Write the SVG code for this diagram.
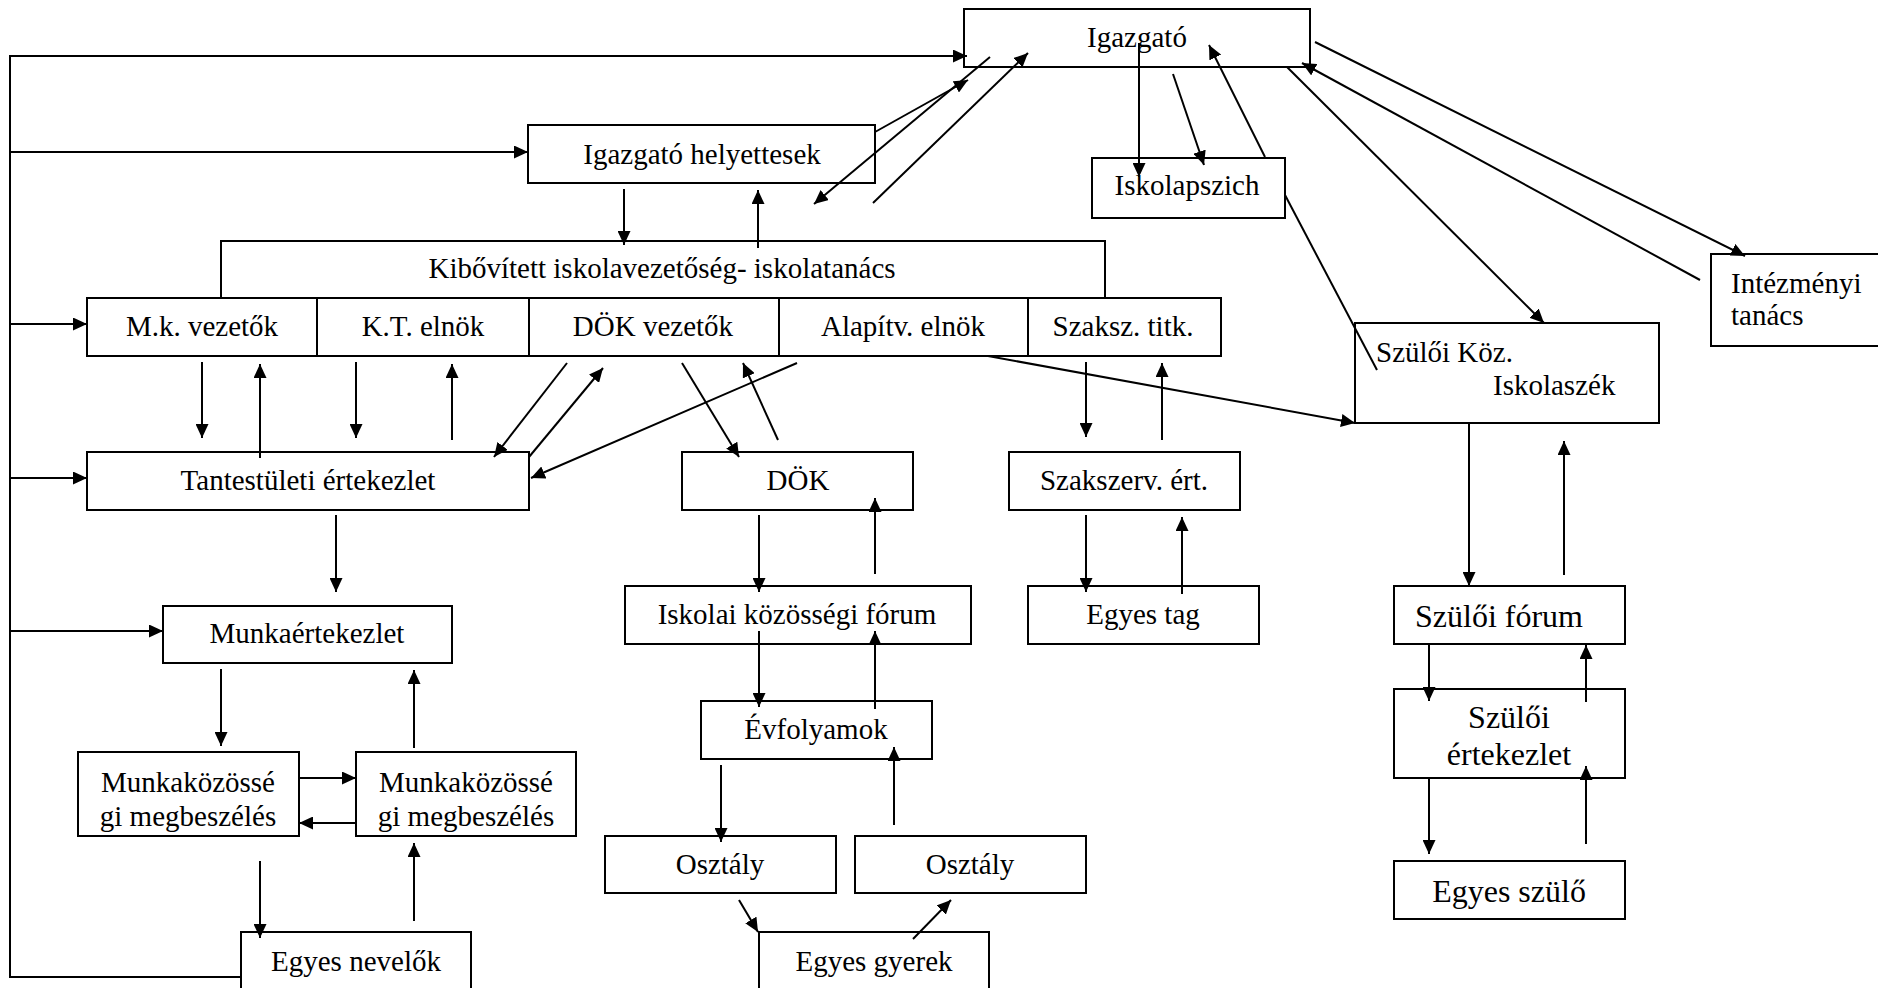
<svg xmlns="http://www.w3.org/2000/svg" width="1878" height="988" viewBox="0 0 1878 988">
<style>
.b{fill:#fff;stroke:#000;stroke-width:2}
.t{font-family:"Liberation Serif","Times New Roman",serif;font-size:29px;fill:#000;text-anchor:middle}
.s{text-anchor:start}
.L{font-size:32px}
.c line,.c polyline{stroke:#000;stroke-width:2;fill:none}
.a{marker-end:url(#ah)}
</style>
<defs>
<marker id="ah" markerUnits="userSpaceOnUse" markerWidth="14" markerHeight="13" refX="14" refY="6.5" orient="auto">
<path d="M0,0 L14,6.5 L0,13 z" fill="#000"/>
</marker>
</defs>
<rect width="1878" height="988" fill="#fff"/>

<g id="n-igazgato"><rect class="b" x="964" y="9" width="346" height="58"/><text class="t" x="1137" y="47">Igazgató</text></g>
<g id="n-helyettesek"><rect class="b" x="528" y="125" width="347" height="58"/><text class="t" x="702" y="164">Igazgató helyettesek</text></g>
<g id="n-iskolapszich"><rect class="b" x="1092" y="158" width="193" height="60"/><text class="t" x="1187" y="195">Iskolapszich</text></g>
<g id="n-kibovitett"><rect class="b" x="221" y="241" width="884" height="57"/><text class="t" x="662" y="278">Kibővített iskolavezetőség- iskolatanács</text></g>
<g id="n-sor">
<rect class="b" x="87" y="298" width="1134" height="58"/>
<line x1="317" y1="298" x2="317" y2="356" stroke="#000" stroke-width="2"/>
<line x1="529" y1="298" x2="529" y2="356" stroke="#000" stroke-width="2"/>
<line x1="779" y1="298" x2="779" y2="356" stroke="#000" stroke-width="2"/>
<line x1="1028" y1="298" x2="1028" y2="356" stroke="#000" stroke-width="2"/>
<text class="t" x="202" y="336">M.k. vezetők</text>
<text class="t" x="423" y="336">K.T. elnök</text>
<text class="t" x="653" y="336">DÖK vezetők</text>
<text class="t" x="903" y="336">Alapítv. elnök</text>
<text class="t" x="1123" y="336">Szaksz. titk.</text>
</g>
<g id="n-intezmenyi"><rect class="b" x="1711" y="254" width="170" height="92"/><text class="t s" x="1731" y="293">Intézményi</text><text class="t s" x="1731" y="325">tanács</text></g>
<g id="n-szuloikoz"><rect class="b" x="1355" y="323" width="304" height="100"/><text class="t s" x="1376" y="362">Szülői Köz.</text><text class="t s" x="1493" y="395">Iskolaszék</text></g>
<g id="n-tantestuleti"><rect class="b" x="87" y="452" width="442" height="58"/><text class="t" x="308" y="490">Tantestületi értekezlet</text></g>
<g id="n-dok"><rect class="b" x="682" y="452" width="231" height="58"/><text class="t" x="798" y="490">DÖK</text></g>
<g id="n-szakszerv"><rect class="b" x="1009" y="452" width="231" height="58"/><text class="t" x="1124" y="490">Szakszerv. ért.</text></g>
<g id="n-iskolai"><rect class="b" x="625" y="586" width="346" height="58"/><text class="t" x="797" y="624">Iskolai közösségi fórum</text></g>
<g id="n-egyestag"><rect class="b" x="1028" y="586" width="231" height="58"/><text class="t" x="1143" y="624">Egyes tag</text></g>
<g id="n-szuloiforum"><rect class="b" x="1394" y="586" width="231" height="58"/><text class="t s L" x="1415" y="627">Szülői fórum</text></g>
<g id="n-munkaert"><rect class="b" x="163" y="606" width="289" height="57"/><text class="t" x="307" y="643">Munkaértekezlet</text></g>
<g id="n-evfolyamok"><rect class="b" x="701" y="701" width="231" height="58"/><text class="t" x="816" y="739">Évfolyamok</text></g>
<g id="n-szuloiert"><rect class="b" x="1394" y="689" width="231" height="89"/><text class="t L" x="1509" y="728">Szülői</text><text class="t L" x="1509" y="765">értekezlet</text></g>
<g id="n-mk1"><rect class="b" x="78" y="752" width="221" height="84"/><text class="t" x="188" y="792">Munkaközössé</text><text class="t" x="188" y="826">gi megbeszélés</text></g>
<g id="n-mk2"><rect class="b" x="356" y="752" width="220" height="84"/><text class="t" x="466" y="792">Munkaközössé</text><text class="t" x="466" y="826">gi megbeszélés</text></g>
<g id="n-osztaly1"><rect class="b" x="605" y="836" width="231" height="57"/><text class="t" x="720" y="874">Osztály</text></g>
<g id="n-osztaly2"><rect class="b" x="855" y="836" width="231" height="57"/><text class="t" x="970" y="874">Osztály</text></g>
<g id="n-egyesszulo"><rect class="b" x="1394" y="861" width="231" height="58"/><text class="t L" x="1509" y="902">Egyes szülő</text></g>
<g id="n-nevelok"><rect class="b" x="241" y="932" width="230" height="70"/><text class="t" x="356" y="971">Egyes nevelők</text></g>
<g id="n-gyerek"><rect class="b" x="759" y="932" width="230" height="70"/><text class="t" x="874" y="971">Egyes gyerek</text></g>

<g id="connectors" class="c">
<polyline class="a" points="241,977 10,977 10,56 967,56"/>
<line class="a" x1="10" y1="152" x2="528" y2="152"/>
<line class="a" x1="10" y1="324" x2="87" y2="324"/>
<line class="a" x1="10" y1="478" x2="87" y2="478"/>
<line class="a" x1="10" y1="631" x2="163" y2="631"/>
<line class="a" x1="875" y1="132" x2="968" y2="80"/>
<line class="a" x1="990" y1="57" x2="814" y2="204"/>
<line class="a" x1="873" y1="203" x2="1028" y2="53"/>
<line class="a" x1="624" y1="189" x2="624" y2="245"/>
<line class="a" x1="758" y1="248" x2="758" y2="190"/>
<line class="a" x1="1139" y1="43" x2="1139" y2="177"/>
<line class="a" x1="1173" y1="74" x2="1204" y2="165"/>
<line class="a" x1="1265" y1="157" x2="1209" y2="45"/>
<line class="a" x1="1287" y1="67" x2="1544" y2="323"/>
<line class="a" x1="1700" y1="280" x2="1302" y2="63"/>
<line class="a" x1="1315" y1="42" x2="1745" y2="256"/>
<line x1="1285" y1="195" x2="1377" y2="370"/>
<line class="a" x1="988" y1="356" x2="1355" y2="423"/>
<line class="a" x1="1086" y1="362" x2="1086" y2="437"/>
<line class="a" x1="1162" y1="440" x2="1162" y2="363"/>
<line class="a" x1="1469" y1="423" x2="1469" y2="586"/>
<line class="a" x1="1564" y1="575" x2="1564" y2="441"/>
<line class="a" x1="202" y1="362" x2="202" y2="438"/>
<line class="a" x1="260" y1="458" x2="260" y2="364"/>
<line class="a" x1="356" y1="362" x2="356" y2="438"/>
<line class="a" x1="452" y1="440" x2="452" y2="364"/>
<line class="a" x1="567" y1="363" x2="494" y2="457"/>
<line class="a" x1="529" y1="457" x2="603" y2="368"/>
<line class="a" x1="797" y1="363" x2="531" y2="478"/>
<line class="a" x1="682" y1="363" x2="739" y2="457"/>
<line class="a" x1="778" y1="440" x2="743" y2="363"/>
<line class="a" x1="336" y1="515" x2="336" y2="592"/>
<line class="a" x1="759" y1="515" x2="759" y2="592"/>
<line class="a" x1="875" y1="574" x2="875" y2="498"/>
<line class="a" x1="1086" y1="515" x2="1086" y2="592"/>
<line class="a" x1="1182" y1="594" x2="1182" y2="517"/>
<line class="a" x1="759" y1="631" x2="759" y2="707"/>
<line class="a" x1="875" y1="709" x2="875" y2="631"/>
<line class="a" x1="721" y1="765" x2="721" y2="842"/>
<line class="a" x1="894" y1="825" x2="894" y2="747"/>
<line class="a" x1="739" y1="900" x2="758" y2="932"/>
<line class="a" x1="913" y1="939" x2="951" y2="900"/>
<line class="a" x1="221" y1="669" x2="221" y2="746"/>
<line class="a" x1="414" y1="748" x2="414" y2="670"/>
<line class="a" x1="299" y1="778" x2="356" y2="778"/>
<line class="a" x1="356" y1="823" x2="299" y2="823"/>
<line class="a" x1="260" y1="861" x2="260" y2="938"/>
<line class="a" x1="414" y1="921" x2="414" y2="843"/>
<line class="a" x1="1429" y1="644" x2="1429" y2="701"/>
<line class="a" x1="1586" y1="702" x2="1586" y2="645"/>
<line class="a" x1="1429" y1="778" x2="1429" y2="854"/>
<line class="a" x1="1586" y1="844" x2="1586" y2="766"/>
</g>
</svg>
